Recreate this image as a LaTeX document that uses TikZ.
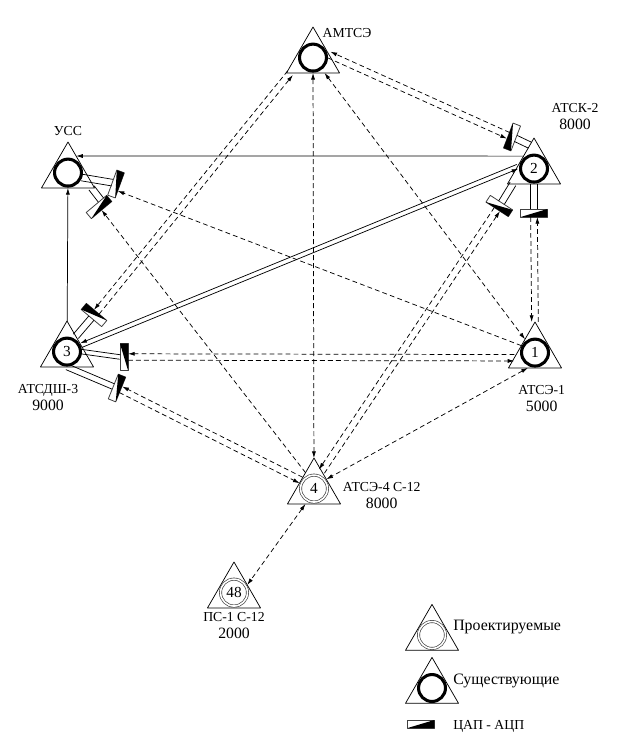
\documentclass[tikz,border=0pt]{standalone}
\usepackage{fontspec}
\setmainfont{Liberation Serif}
\usetikzlibrary{arrows.meta,calc,shapes.geometric}

\tikzset{
	tri/.style={draw, regular polygon, regular polygon sides=3, minimum size=45.9pt, inner sep=0pt, outer sep=0pt, line width=0.55pt, fill=white},
	exist/.style={draw, circle, minimum size=20.2pt, inner sep=0pt, outer sep=0.6pt, line width=2.3pt, fill=white, font=\fontsize{11.5}{13}\selectfont},
	proj/.style={draw=black!75, circle, minimum size=20.2pt, inner sep=0pt, outer sep=0.6pt, line width=0.5pt, double, double distance=1.2pt, font=\fontsize{11.5}{13}\selectfont},
	adc/.style={draw=black!75, fill=white, rectangle, minimum width=20pt, minimum height=6pt, inner sep=0pt, outer sep=0pt, line width=0.6pt},
	lbl/.style={inner sep=0pt, align=center, font=\fontsize{10.3}{12.75}\selectfont},
	bigger/.style={font=\fontsize{11.9}{13}\selectfont},
	solidlink/.style={->, line width=0.55pt},
	dashlink/.style={->, line width=0.55pt, dash pattern=on 3.6pt off 2.4pt},
	leg/.style={line width=0.55pt}
}

% line count under a station name
\newcommand{\cnt}[1]{{\fontsize{11.8}{12.75}\selectfont #1}}

% two parallel lines, one each way
\newcommand{\dualink}[4][2.5pt]{
	\draw[#2] ($(#3)!#1!-90:(#4)$) -- ($(#4)!#1!90:(#3)$);
	\draw[#2] ($(#4)!#1!-90:(#3)$) -- ($(#3)!#1!90:(#4)$);
}

\begin{document}
\begin{tikzpicture}[x=0.75pt, y=-0.75pt, >={Latex[length=5pt,width=3pt]}, line cap=butt, line join=round]
	\useasboundingbox (0,0) rectangle (628,745);
	
	% stations
	\foreach \name/\x/\y/\kind/\num in {a/313/57.6/exist/, b/534/168.6/exist/2, u/68/172.6/exist/, c/67/351.6/exist/3, d/535/352.6/exist/1, e/314/488.6/proj/4, f/234/592.6/proj/48, p/432/635/proj/, q/432/688/exist/} {
		\node[tri] (t\name) at (\x,\y) {};
		\node[\kind] (n\name) at (\x,\y) {\num};
	}
	
	% converters
	\foreach \name/\x/\y/\rot in {c1/512/137/249, c2/499.3/206/-33, c3/534/213/0, c4/116/184/70, c5/99/207/40, c6/94/315/140, c7/124/357/90, c8/117/388/68, c9/421/724/0} {
		\node[adc, rotate=\rot] (\name) at (\x,\y) {};
		\fill (\name.south west) -- (\name.south east) -- (\name.north east) -- cycle;
	}
	
	% converter legs
	\dualink{leg}{c1.north}{tb.100}
	\dualink{leg}{c2.north}{tb.216}
	\dualink{leg}{c3.north}{tb.south}
	\dualink{leg}{c4.north}{nu.-20}
	\dualink{leg}{c5.34}{tu.-33}
	\dualink{leg}{c6.north}{tc.60}
	\dualink[1.7pt]{leg}{c7.north}{nc.0}
	\dualink[2.2pt]{leg}{c8.north}{tc.south}
	
	% solid links
	\draw[solidlink] (tb.130) -- (tu.64);
	\draw[solidlink] (tc) -- (tu);
	\dualink[1.7pt]{solidlink}{tc.24}{tb.173}
	
	% dashed pairs
	\dualink{dashlink}{ta.10}{c1.south}
	\dualink{dashlink}{ta.214}{c6.south}
	\dualink{dashlink}{c3.south}{td.90}
	\dualink{dashlink}{c2.south}{te.66}
	\dualink[2.4pt]{dashlink}{c7.south}{td.194}
	\dualink{dashlink}{c8.south}{te.147}
	
	% dashed singles
	\draw[dashlink, <->] (ta) -- (te);
	\draw[dashlink, <->] (ta) -- (td);
	\draw[dashlink, <->] (td.245) -- (te.37);
	\draw[dashlink, <->] (te.241) -- (tf.30);
	\draw[dashlink] (td.153) -- (c4.214);
	\draw[dashlink] (te.118) -- (c5.south);
	
	% labels
	\node[lbl] (la) at (347,33) {АМТСЭ};
	\node[lbl] (lb) at (575,116.5) {АТСК-2\\\cnt{8000}};
	\node[lbl] (lu) at (68,130.7) {УСС};
	\node[lbl] (lc) at (48,398) {АТСДШ-3\\\cnt{9000}};
	\node[lbl] (ld) at (541.7,398.5) {АТСЭ-1\\\cnt{5000}};
	\node[lbl] (le) at (381.7,495.5) {АТСЭ-4 С-12\\\cnt{8000}};
	\node[lbl] (lf) at (234,625.5) {ПС-1 С-12\\\cnt{2000}};
	
	% legend
	\node[lbl, bigger, anchor=west] (lp) at (453,626.7) {Проектируемые};
	\node[lbl, bigger, anchor=west] (lq) at (453,680.7) {Существующие};
	\node[lbl, anchor=west] (lr) at (453,726) {ЦАП - АЦП};
\end{tikzpicture}
\end{document}
